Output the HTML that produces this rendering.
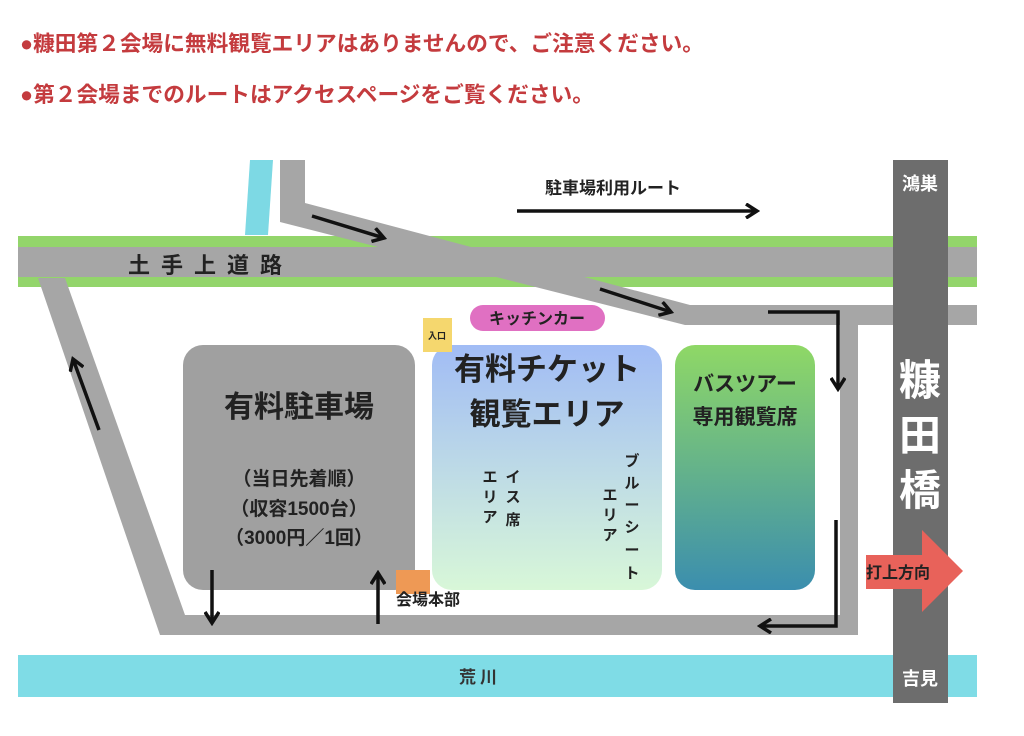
<!DOCTYPE html>
<html><head><meta charset="utf-8"><style>
body{margin:0;background:#fff;width:1024px;height:736px;overflow:hidden;font-family:"Liberation Sans","Noto Sans CJK JP",sans-serif}
.h{position:absolute;left:20px;color:#c43b3e;font-weight:bold;font-size:21.7px;white-space:nowrap}
svg text{font-family:"Liberation Sans","Noto Sans CJK JP",sans-serif;font-weight:bold}
</style></head><body>
<div class="h" style="top:27px">●糠田第２会場に無料観覧エリアはありませんので、ご注意ください。</div>
<div class="h" style="top:78px">●第２会場までのルートはアクセスページをご覧ください。</div>
<svg width="1024" height="736" style="position:absolute;left:0;top:0">
<defs>
<linearGradient id="gb" x1="0" y1="0" x2="0" y2="1"><stop offset="0" stop-color="#a1bcf5"/><stop offset="1" stop-color="#d8f7d8"/></linearGradient>
<linearGradient id="gg" x1="0" y1="0" x2="0" y2="1"><stop offset="0" stop-color="#8fd866"/><stop offset="1" stop-color="#3b8eae"/></linearGradient>
<marker id="a" markerWidth="16" markerHeight="16" refX="13" refY="8" orient="auto" markerUnits="userSpaceOnUse" viewBox="0 0 16 16"><path d="M2,1 L13,8 L2,15" fill="none" stroke="#111" stroke-width="3.5"/></marker>
</defs>
<rect x="18" y="236" width="959" height="51" fill="#93d56b"/>
<rect x="18" y="247" width="959" height="30" fill="#a6a6a6"/>
<polygon points="250,160 273,160 268,235 245,235" fill="#7dd9e4"/>
<polygon points="280,160 305,160 305,203 690,305 977,305 977,325 685,325 280,222" fill="#a6a6a6"/>
<polygon points="38,278 65,278 185,615 185,635 160,635" fill="#a6a6a6"/>
<rect x="160" y="615" width="698" height="20" fill="#a6a6a6"/>
<rect x="840" y="320" width="18" height="315" fill="#a6a6a6"/>
<rect x="18" y="655" width="959" height="42" fill="#7fdce6"/>
<rect x="893" y="160" width="55" height="543" fill="#6d6d6d"/>
<text x="920" y="190" fill="#fff" font-size="18" text-anchor="middle">鴻巣</text>
<text x="920" y="685" fill="#fff" font-size="18" text-anchor="middle">吉見</text>
<text x="920" y="395" fill="#fff" font-size="42" text-anchor="middle">糠</text>
<text x="920" y="450" fill="#fff" font-size="42" text-anchor="middle">田</text>
<text x="920" y="505" fill="#fff" font-size="42" text-anchor="middle">橋</text>
<text x="480" y="683" fill="#333" font-size="17" text-anchor="middle" letter-spacing="4">荒川</text>
<text x="128" y="273" fill="#222" font-size="22" letter-spacing="11">土手上道路</text>
<rect x="183" y="345" width="232" height="245" rx="20" fill="#a0a0a0"/>
<text x="299" y="417" font-size="30" text-anchor="middle" fill="#222">有料駐車場</text>
<text x="299" y="485" font-size="19" text-anchor="middle" fill="#222">（当日先着順）</text>
<text x="299" y="515" font-size="19" text-anchor="middle" fill="#222">（収容1500台）</text>
<text x="299" y="544" font-size="19" text-anchor="middle" fill="#222">（3000円／1回）</text>
<rect x="432" y="345" width="230" height="245" rx="20" fill="url(#gb)"/>
<text x="547" y="380" font-size="31" text-anchor="middle" fill="#222">有料チケット</text>
<text x="547" y="425" font-size="31" text-anchor="middle" fill="#222">観覧エリア</text>
<g font-size="15" fill="#222" text-anchor="middle">
<text x="513" y="482">イ</text><text x="513" y="502">ス</text><text x="513" y="525">席</text>
<text x="490" y="482">エ</text><text x="490" y="502">リ</text><text x="490" y="522">ア</text>
<text x="632" y="466">ブ</text><text x="632" y="488">ル</text><text x="632" y="510">ー</text><text x="632" y="532">シ</text><text x="632" y="555">ー</text><text x="632" y="578">ト</text>
<text x="610" y="500">エ</text><text x="610" y="520">リ</text><text x="610" y="540">ア</text>
</g>
<rect x="675" y="345" width="140" height="245" rx="20" fill="url(#gg)"/>
<text x="745" y="391" font-size="21" text-anchor="middle" fill="#222">バスツアー</text>
<text x="745" y="424" font-size="21" text-anchor="middle" fill="#222">専用観覧席</text>
<rect x="470" y="305" width="135" height="26" rx="13" fill="#e070c2"/>
<text x="537" y="324" font-size="16" text-anchor="middle" fill="#222">キッチンカー</text>
<rect x="423" y="318" width="29" height="34" fill="#f5d76e"/>
<text x="437" y="339" font-size="9" text-anchor="middle" fill="#222">入口</text>
<rect x="396" y="570" width="34" height="24" fill="#ee9955"/>
<text x="396" y="605" font-size="16" fill="#222">会場本部</text>
<text x="545" y="194" font-size="17" fill="#222">駐車場利用ルート</text>
<g stroke="#111" stroke-width="3.5" fill="none" marker-end="url(#a)">
<line x1="517" y1="211" x2="757" y2="211"/>
<line x1="312" y1="216" x2="384" y2="238"/>
<line x1="600" y1="289" x2="671" y2="312"/>
<polyline points="768,312 838,312 838,389"/>
<polyline points="836,520 836,626 760,626"/>
<line x1="212" y1="570" x2="212" y2="623"/>
<line x1="378" y1="624" x2="378" y2="573"/>
<line x1="99" y1="430" x2="73" y2="359"/>
</g>
<polygon points="866,555 922,555 922,530 963,571 922,612 922,589 866,589" fill="#e8625a"/>
<text x="866" y="578" font-size="16" fill="#222">打上方向</text>
</svg>
</body></html>
